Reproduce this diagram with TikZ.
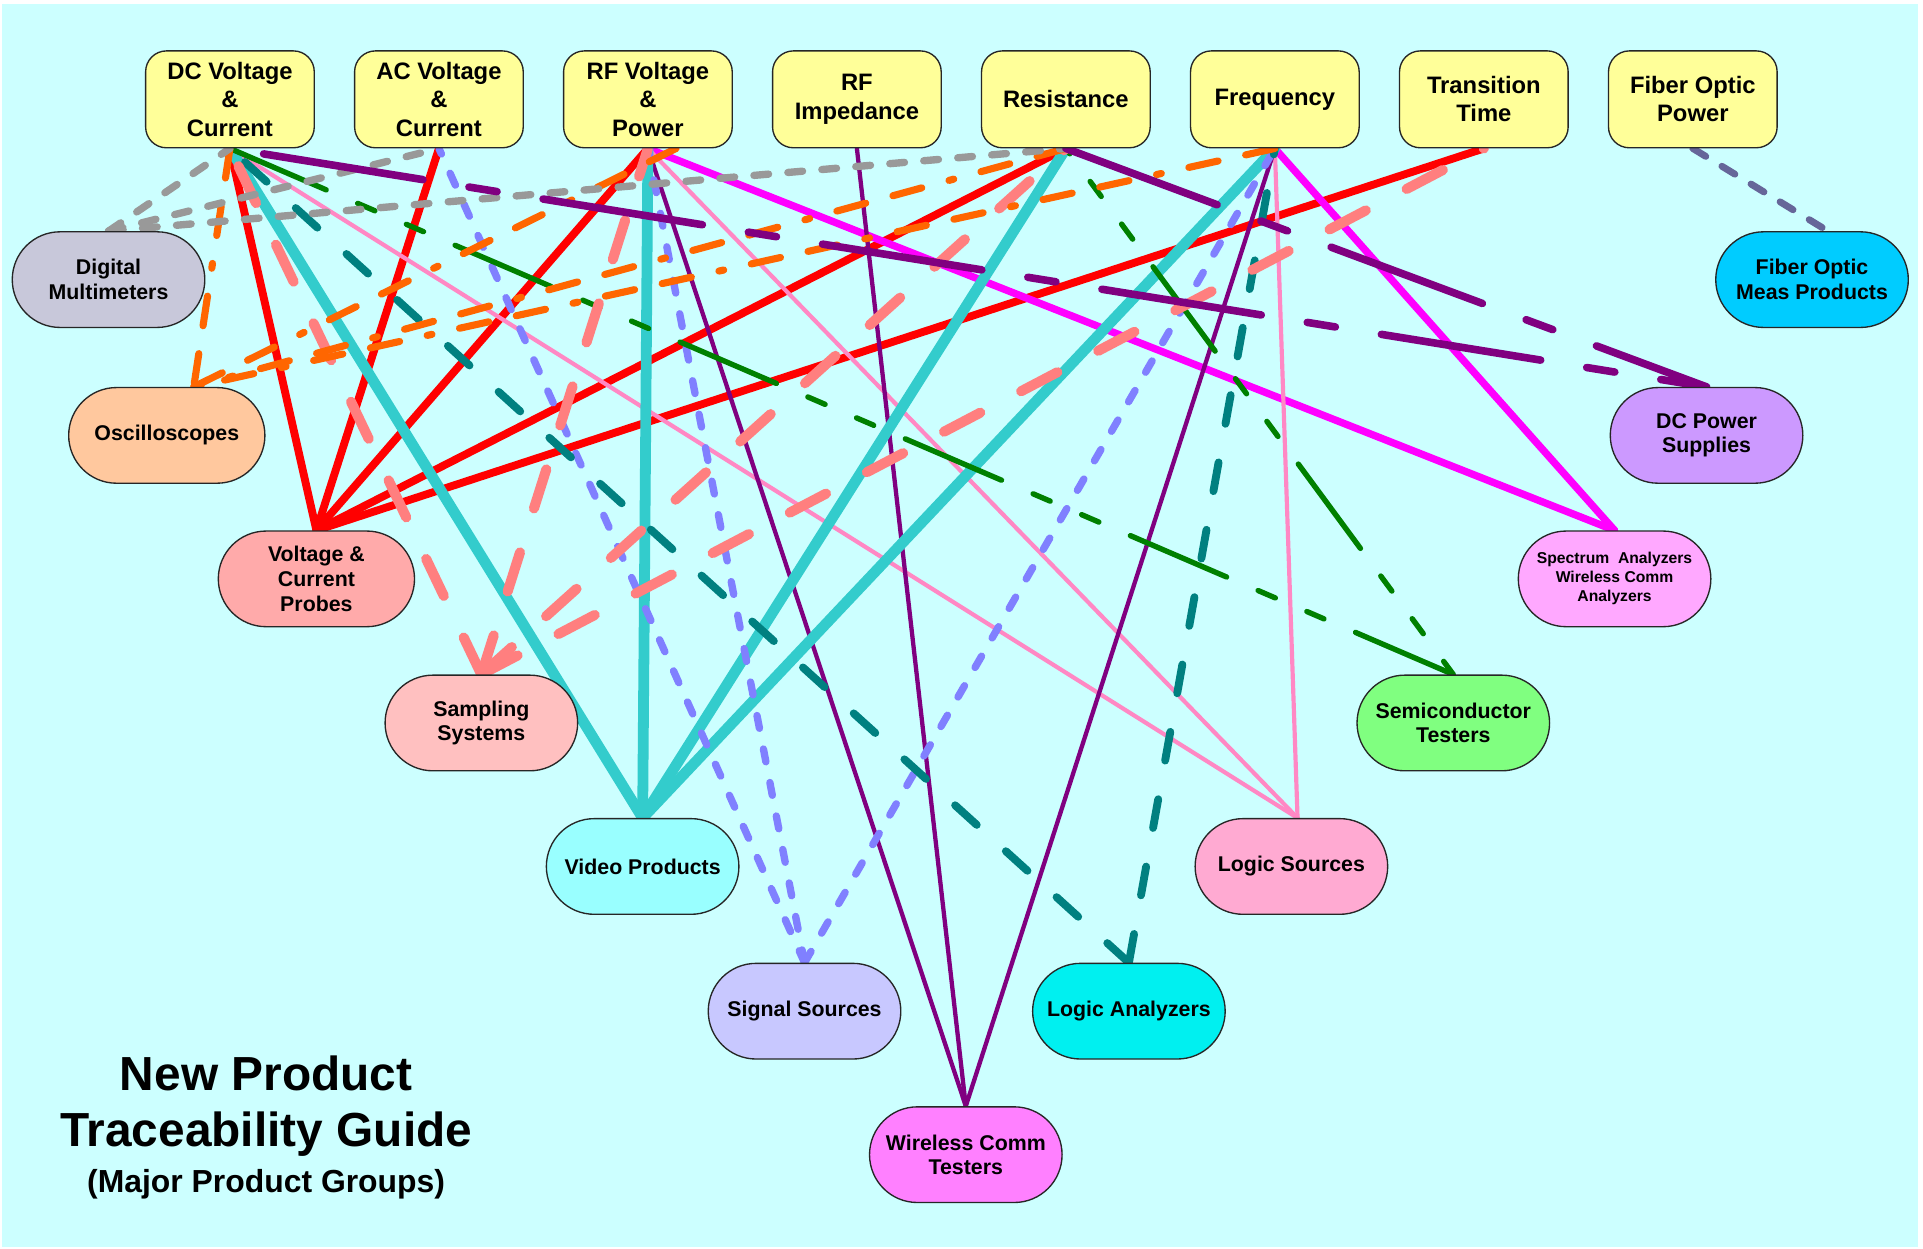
\documentclass[tikz,border=0pt]{standalone}
\usepackage{fontspec}
\setmainfont{Liberation Sans}
\usetikzlibrary{calc}
\pgfdeclarelayer{bgl}
\pgfdeclarelayer{edgel}
\pgfsetlayers{bgl,edgel,main}
\definecolor{bgcyan}{HTML}{CCFFFF}
\definecolor{topyel}{HTML}{FFFF99}
\definecolor{cdm}{HTML}{C8C8DA}
\definecolor{cosc}{HTML}{FFC89E}
\definecolor{cprobe}{HTML}{FFAAAA}
\definecolor{csamp}{HTML}{FFC0C0}
\definecolor{cvideo}{HTML}{99FFFF}
\definecolor{css}{HTML}{C8C8FF}
\definecolor{cwct}{HTML}{FF80FF}
\definecolor{cla}{HTML}{00F0F0}
\definecolor{cls}{HTML}{FFAAD2}
\definecolor{csemi}{HTML}{80FF80}
\definecolor{cspec}{HTML}{FFA8FF}
\definecolor{cdcps}{HTML}{CC99FF}
\definecolor{cfom}{HTML}{00CCFF}
\definecolor{lgray}{HTML}{999999}
\definecolor{lorange}{HTML}{FF6600}
\definecolor{lred}{HTML}{FF0000}
\definecolor{lsalmon}{HTML}{FF7F7F}
\definecolor{lcyan}{HTML}{33CCCC}
\definecolor{lblue}{HTML}{8080FF}
\definecolor{lpurple}{HTML}{800080}
\definecolor{lteal}{HTML}{008080}
\definecolor{lpink}{HTML}{FF88C4}
\definecolor{lgreen}{HTML}{008000}
\definecolor{lmag}{HTML}{FF00FF}
\definecolor{lslate}{HTML}{666699}
\tikzset{
  topbox/.style={draw=black!85, line width=0.55pt, fill=topyel, rounded corners=8.5pt,
    minimum width=68.75pt, minimum height=39.5pt, inner sep=0pt, align=center,
    font=\fontsize{9.7}{11.5}\selectfont\bfseries},
  prodbox/.style={draw=black!85, line width=0.55pt, rounded corners=19.5pt,
    minimum width=78.5pt, minimum height=39pt, inner sep=0pt, align=center,
    font=\fontsize{8.7}{10}\selectfont\bfseries},
  redln/.style={draw=lred, line width=3.2pt, line cap=round},
  cyanln/.style={draw=lcyan, line width=4.4pt, line cap=round},
  magln/.style={draw=lmag, line width=3.0pt, line cap=round},
  pinkln/.style={draw=lpink, line width=1.7pt, line cap=round},
  pthin/.style={draw=lpurple, line width=1.75pt, line cap=round},
  blueln/.style={draw=lblue, line width=3.0pt, line cap=round, dash pattern=on 5.3pt off 8.6pt},
  tealln/.style={draw=lteal, line width=3.2pt, line cap=round, dash pattern=on 11.9pt off 16pt},
  greenln/.style={draw=lgreen, line width=2.2pt, line cap=round,
    dash pattern=on 42.7pt off 14pt on 7.6pt off 14pt on 7.6pt off 14pt},
  salmonln/.style={draw=lsalmon, line width=4.1pt, line cap=round, dash pattern=on 16.7pt off 18.8pt},
  orangeln/.style={draw=lorange, line width=2.9pt, line cap=round,
    dash pattern=on 12.2pt off 11.5pt on 12.2pt off 11.5pt on 2pt off 11.5pt},
  grayln/.style={draw=lgray, line width=3.0pt, line cap=round, dash pattern=on 6pt off 7.9pt},
  pthick/.style={draw=lpurple, line width=3.1pt, line cap=round,
    dash pattern=on 65.8pt off 19pt on 11.6pt off 19pt},
  slateln/.style={draw=lslate, line width=2.8pt, line cap=round, dash pattern=on 6.2pt off 7.7pt},
  titlefont/.style={font=\fontsize{19.5}{23}\selectfont\bfseries, anchor=base, inner sep=0pt},
}
\begin{document}
\begin{tikzpicture}[x=0.5pt,y=-0.5pt]
\useasboundingbox (0,0) rectangle (1568,1018);
\begin{pgfonlayer}{bgl}
\fill[white] (0,0) rectangle (1568,1018);
\fill[bgcyan] (2,3) rectangle (1564,1017);
\end{pgfonlayer}

% top row
\node[topbox] (dc)   at (187.5,81)  {DC Voltage\\\&\\Current};
\node[topbox] (ac)   at (357.9,81)  {AC Voltage\\\&\\Current};
\node[topbox] (rfv)  at (528.3,81)  {RF Voltage\\\&\\Power};
\node[topbox] (rfi)  at (698.7,81)  {RF\\Impedance};
\node[topbox] (res)  at (869.1,81)  {Resistance};
\node[topbox] (freq) at (1039.5,81) {Frequency};
\node[topbox] (tt)   at (1209.9,81) {Transition\\Time};
\node[topbox] (fop)  at (1380.3,81) {Fiber Optic\\Power};

% product groups
\node[prodbox, fill=cdm]    (dm)    at (88.5,228)    {Digital\\Multimeters};
\node[prodbox, fill=cosc, minimum width=80pt] (osc) at (136,355) {Oscilloscopes};
\node[prodbox, fill=cprobe, minimum width=80pt, font=\fontsize{8.7}{10.25}\selectfont\bfseries] (probes) at (258,472) {Voltage \&\\Current\\Probes};
\node[prodbox, fill=csamp]  (samp)  at (392.5,589.5) {Sampling\\Systems};
\node[prodbox, fill=cvideo] (video) at (524,706.5)   {Video Products};
\node[prodbox, fill=css]    (ss)    at (656,824.5)   {Signal Sources};
\node[prodbox, fill=cwct]   (wct)   at (787.5,941.5) {Wireless Comm\\Testers};
\node[prodbox, fill=cla]    (la)    at (920.5,824.5) {Logic Analyzers};
\node[prodbox, fill=cls]    (ls)    at (1053,706.5)  {Logic Sources};
\node[prodbox, fill=csemi]  (semi)  at (1185,589.5)  {Semiconductor\\Testers};
\node[prodbox, fill=cspec, font=\fontsize{6.4}{7.75}\selectfont\bfseries] (spec) at (1316.5,472) {Spectrum~~Analyzers\\Wireless Comm\\Analyzers};
\node[prodbox, fill=cdcps]  (dcps)  at (1391.5,355)  {DC Power\\Supplies};
\node[prodbox, fill=cfom]   (fom)   at (1477.5,228)  {Fiber Optic\\Meas Products};

\coordinate (oscT) at ([xshift=11pt]osc.north);
\coordinate (lsT)  at ([xshift=2.5pt]ls.north);
\coordinate (fomT) at ([xshift=6.5pt]fom.north);
\coordinate (rfvO) at ([xshift=11.5pt]rfv.south);

% title
\node[titlefont] (t1) at (217,889) {New Product};
\node[titlefont] (t2) at (217,935) {Traceability Guide};
\node[titlefont, font=\fontsize{13}{15}\selectfont\bfseries] (t3) at (217,972) {(Major Product Groups)};

\begin{pgfonlayer}{edgel}
% red solid -> probes
\draw[redln] (probes.north) -- (dc.south);
\draw[redln] (probes.north) -- (ac.south);
\draw[redln] (probes.north) -- (rfv.south);
\draw[redln] (probes.north) -- (res.south);
\draw[redln] (probes.north) -- (tt.south);
% magenta -> spectrum
\draw[magln] (rfv.south) -- (spec.north);
\draw[magln] (freq.south) -- (spec.north);
% pink -> logic sources
\draw[pinkln] (dc.south) -- (lsT);
\draw[pinkln] (rfv.south) -- (lsT);
\draw[pinkln] (freq.south) -- (lsT);
% purple thin -> wireless testers
\draw[pthin] (rfv.south) -- (wct.north);
\draw[pthin] (rfi.south) -- (wct.north);
\draw[pthin] (freq.south) -- (wct.north);
% cyan -> video
\draw[cyanln] (video.north) -- (dc.south);
\draw[cyanln] (video.north) -- (rfv.south);
\draw[cyanln] (video.north) -- (res.south);
\draw[cyanln] (video.north) -- (freq.south);
% blue dashed -> signal sources
\draw[blueln] (ss.north) -- (ac.south);
\draw[blueln] (ss.north) -- (rfv.south);
\draw[blueln] (ss.north) -- (freq.south);
% teal dashed -> logic analyzers
\draw[tealln] (la.north) -- (dc.south);
\draw[tealln] (la.north) -- (freq.south);
% green -> semiconductor testers
\draw[greenln] (dc.south) -- (semi.north);
\draw[greenln, dash phase=40pt] (res.south) -- (semi.north);
% salmon -> sampling
\draw[salmonln] (samp.north) -- (dc.south);
\draw[salmonln] (samp.north) -- (rfv.south);
\draw[salmonln] (samp.north) -- (res.south);
\draw[salmonln] (samp.north) -- (tt.south);
% orange -> oscilloscopes
\draw[orangeln] (dc.south) -- (oscT);
\draw[orangeln] (rfvO) -- (oscT);
\draw[orangeln] (res.south) -- (oscT);
\draw[orangeln] (freq.south) -- (oscT);
% gray -> DMM
\draw[grayln] (dm.north) -- (dc.south);
\draw[grayln] (dm.north) -- (ac.south);
\draw[grayln] (dm.north) -- (res.south);
% purple thick -> DC power supplies
\draw[pthick, dash phase=101.5pt] (dc.south) -- (dcps.north);
\draw[pthick] (res.south) -- (dcps.north);
% fiber optic
\draw[slateln] (fop.south) -- (fomT);
\end{pgfonlayer}
\end{tikzpicture}
\end{document}
